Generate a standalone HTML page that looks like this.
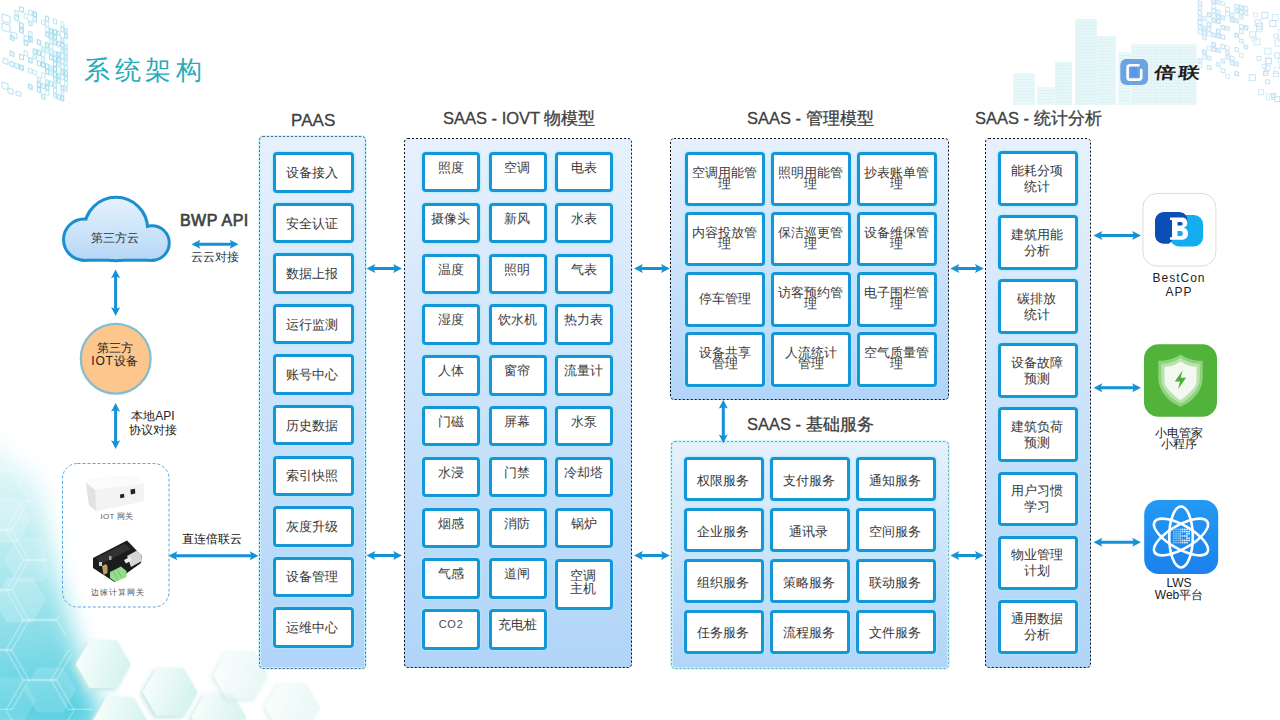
<!DOCTYPE html><html><head><meta charset="utf-8"><title>系统架构</title><style>
*{margin:0;padding:0;box-sizing:border-box}
html,body{width:1280px;height:720px;overflow:hidden;background:#fff}
body{position:relative;font-family:"Liberation Sans",sans-serif;color:#3c3c3c}
.abs{position:absolute}
svg.full{position:absolute;left:0;top:0}
.b{position:absolute;border:3px solid #1596d7;box-shadow:0 0 1.5px 0.8px rgba(170,236,252,0.8);border-radius:4px;background:#fff;
   font-size:13px;color:#383838;display:flex;align-items:center;justify-content:center;text-align:center;line-height:16px;padding-top:3px;padding-right:2px}
.bs{padding-top:0.5px}
.bp{padding-top:1.2px;padding-right:3.2px}
.bt{position:absolute;border:3px solid #1596d7;box-shadow:0 0 1.5px 0.8px rgba(170,236,252,0.8);border-radius:4px;background:#fff;
   font-size:13px;color:#3c3c3c;text-align:center;line-height:15px;padding-top:5px;padding-right:1px}
.bm{position:absolute;border:3px solid #1596d7;box-shadow:0 0 1.5px 0.8px rgba(170,236,252,0.8);border-radius:4px;background:#fff;
   font-size:13px;color:#3c3c3c;display:flex;align-items:center;justify-content:center;text-align:center;line-height:11px;padding-bottom:2px}
.cp,.cd,.cc{position:absolute;border-radius:4px;background:linear-gradient(#e7f1fd,#b0d4f8)}
.hd{position:absolute;font-size:16.5px;color:#404040;white-space:nowrap;line-height:20px;-webkit-text-stroke:0.3px #404040}
.hd b{font-size:17px;font-weight:500}
.lb{position:absolute;font-size:12px;color:#333;white-space:nowrap;text-align:center;line-height:13px}
</style></head><body>
<svg class="full" width="1280" height="720"><defs>
<radialGradient id="blg" cx="0" cy="1" r="1" gradientUnits="objectBoundingBox">
<stop offset="0" stop-color="#5fd3e3" stop-opacity="0.85"/>
<stop offset="0.55" stop-color="#a8e8ef" stop-opacity="0.6"/>
<stop offset="1" stop-color="#ffffff" stop-opacity="0"/>
</radialGradient>
<linearGradient id="cloudg" x1="0" y1="196" x2="0" y2="262" gradientUnits="userSpaceOnUse">
<stop offset="0" stop-color="#e8f3fd"/><stop offset="1" stop-color="#b4d6f6"/></linearGradient>
</defs><defs><linearGradient id="blc" x1="0" y1="440" x2="50" y2="720" gradientUnits="userSpaceOnUse"><stop offset="0" stop-color="#eefafb"/><stop offset="0.3" stop-color="#c4eff3"/><stop offset="0.7" stop-color="#88dde8"/><stop offset="1" stop-color="#52cee0"/></linearGradient><linearGradient id="tileg" x1="0" y1="0" x2="1" y2="0.3"><stop offset="0" stop-color="#fbfffe"/><stop offset="1" stop-color="#d6f3ee"/></linearGradient><filter id="bigblur" x="-50%" y="-50%" width="200%" height="200%"><feGaussianBlur stdDeviation="12"/></filter><clipPath id="cyclip"><polygon points="0,440 36,500 50,580 70,650 96,720 0,720"/></clipPath><filter id="hb" x="-30%" y="-30%" width="160%" height="160%"><feGaussianBlur stdDeviation="2.2"/></filter><filter id="hb2" x="-30%" y="-30%" width="160%" height="160%"><feGaussianBlur stdDeviation="0.7"/></filter></defs><polygon points="-30,420 38,485 55,570 76,645 106,735 -30,735" fill="url(#blc)" filter="url(#bigblur)"/><g clip-path="url(#cyclip)"><polygon points="29.0,500.0 12.0,529.4 -22.0,529.4 -39.0,500.0 -22.0,470.6 12.0,470.6" fill="none" stroke="#ffffff" stroke-opacity="0.36" stroke-width="1.1"/><polygon points="29.0,560.0 12.0,589.4 -22.0,589.4 -39.0,560.0 -22.0,530.6 12.0,530.6" fill="none" stroke="#ffffff" stroke-opacity="0.36" stroke-width="1.1"/><polygon points="74.0,530.0 57.0,559.4 23.0,559.4 6.0,530.0 23.0,500.6 57.0,500.6" fill="none" stroke="#ffffff" stroke-opacity="0.36" stroke-width="1.1"/><polygon points="29.0,620.0 12.0,649.4 -22.0,649.4 -39.0,620.0 -22.0,590.6 12.0,590.6" fill="none" stroke="#ffffff" stroke-opacity="0.36" stroke-width="1.1"/><polygon points="74.0,590.0 57.0,619.4 23.0,619.4 6.0,590.0 23.0,560.6 57.0,560.6" fill="none" stroke="#ffffff" stroke-opacity="0.36" stroke-width="1.1"/><polygon points="74.0,650.0 57.0,679.4 23.0,679.4 6.0,650.0 23.0,620.6 57.0,620.6" fill="none" stroke="#ffffff" stroke-opacity="0.36" stroke-width="1.1"/><polygon points="29.0,680.0 12.0,709.4 -22.0,709.4 -39.0,680.0 -22.0,650.6 12.0,650.6" fill="none" stroke="#ffffff" stroke-opacity="0.36" stroke-width="1.1"/><polygon points="119.0,680.0 102.0,709.4 68.0,709.4 51.0,680.0 68.0,650.6 102.0,650.6" fill="none" stroke="#ffffff" stroke-opacity="0.36" stroke-width="1.1"/><polygon points="74.0,710.0 57.0,739.4 23.0,739.4 6.0,710.0 23.0,680.6 57.0,680.6" fill="none" stroke="#ffffff" stroke-opacity="0.36" stroke-width="1.1"/><polygon points="46.0,600.0 33.0,622.5 7.0,622.5 -6.0,600.0 7.0,577.5 33.0,577.5" fill="#ffffff" fill-opacity="0.2"/><polygon points="76.0,690.0 63.0,712.5 37.0,712.5 24.0,690.0 37.0,667.5 63.0,667.5" fill="#ffffff" fill-opacity="0.15"/><polygon points="36.0,700.0 23.0,722.5 -3.0,722.5 -16.0,700.0 -3.0,677.5 23.0,677.5" fill="#ffffff" fill-opacity="0.12"/><polygon points="56.0,560.0 43.0,582.5 17.0,582.5 4.0,560.0 17.0,537.5 43.0,537.5" fill="#ffffff" fill-opacity="0.15"/><polygon points="31.0,520.0 18.0,542.5 -8.0,542.5 -21.0,520.0 -8.0,497.5 18.0,497.5" fill="#ffffff" fill-opacity="0.2"/></g><g opacity="1"><polygon points="129.2,666.3 115.2,690.5 87.2,690.5 73.2,666.3 87.2,642.1 115.2,642.1" fill="#c6e9e3" filter="url(#hb)"/><polygon points="130.7,664.3 117.0,688.1 89.5,688.1 75.7,664.3 89.4,640.5 117.0,640.5" fill="url(#tileg)" filter="url(#hb2)"/></g><g opacity="1"><polygon points="196.0,694.0 182.0,718.2 154.0,718.2 140.0,694.0 154.0,669.8 182.0,669.8" fill="#c6e9e3" filter="url(#hb)"/><polygon points="197.5,692.0 183.8,715.8 156.2,715.8 142.5,692.0 156.2,668.2 183.8,668.2" fill="url(#tileg)" filter="url(#hb2)"/></g><g opacity="1"><polygon points="146.0,723.0 132.0,747.2 104.0,747.2 90.0,723.0 104.0,698.8 132.0,698.8" fill="#c6e9e3" filter="url(#hb)"/><polygon points="147.5,721.0 133.8,744.8 106.2,744.8 92.5,721.0 106.2,697.2 133.8,697.2" fill="url(#tileg)" filter="url(#hb2)"/></g><g opacity="0.9"><polygon points="244.6,719.0 230.6,743.2 202.6,743.2 188.6,719.0 202.6,694.8 230.6,694.8" fill="#c6e9e3" filter="url(#hb)"/><polygon points="246.1,717.0 232.3,740.8 204.8,740.8 191.1,717.0 204.8,693.2 232.3,693.2" fill="url(#tileg)" filter="url(#hb2)"/></g><g opacity="0.55"><polygon points="266.5,677.0 252.5,701.2 224.5,701.2 210.5,677.0 224.5,652.8 252.5,652.8" fill="#c6e9e3" filter="url(#hb)"/><polygon points="268.0,675.0 254.2,698.8 226.8,698.8 213.0,675.0 226.8,651.2 254.2,651.2" fill="url(#tileg)" filter="url(#hb2)"/></g><g opacity="0.5"><polygon points="318.5,709.0 304.5,733.2 276.5,733.2 262.5,709.0 276.5,684.8 304.5,684.8" fill="#c6e9e3" filter="url(#hb)"/><polygon points="320.0,707.0 306.2,730.8 278.8,730.8 265.0,707.0 278.8,683.2 306.2,683.2" fill="url(#tileg)" filter="url(#hb2)"/></g><g opacity="0.9"><polygon points="10.0,34.8 14.0,36.2 14.0,40.8 10.0,39.4" fill="#dff5fb" stroke="#9ddcee" stroke-width="0.8"/><polygon points="10.0,50.7 14.0,52.1 14.0,56.7 10.0,55.3" fill="#dff5fb" stroke="#9ddcee" stroke-width="0.8"/><polygon points="10.0,61.3 14.0,62.7 14.0,67.3 10.0,65.9" fill="none" stroke="#86d3e8" stroke-width="0.8"/><polygon points="14.8,10.0 18.7,11.4 18.7,16.0 14.8,14.6" fill="#e9f8fc" stroke="#b0e2f2" stroke-width="0.8"/><polygon points="14.8,15.3 18.7,16.7 18.7,21.3 14.8,19.9" fill="none" stroke="#86d3e8" stroke-width="0.8"/><polygon points="14.8,63.0 18.7,64.4 18.7,69.0 14.8,67.6" fill="#e9f8fc" stroke="#9ddcee" stroke-width="0.8"/><polygon points="19.5,6.4 23.3,7.8 23.3,12.4 19.5,11.0" fill="none" stroke="#7acfe6" stroke-width="0.8"/><polygon points="19.5,22.3 23.3,23.7 23.3,28.3 19.5,26.9" fill="#e9f8fc" stroke="#7acfe6" stroke-width="0.8"/><polygon points="19.5,27.6 23.3,29.0 23.3,33.6 19.5,32.2" fill="#dff5fb" stroke="#7acfe6" stroke-width="0.8"/><polygon points="19.5,54.1 23.3,55.5 23.3,60.1 19.5,58.7" fill="none" stroke="#7acfe6" stroke-width="0.8"/><polygon points="19.5,64.7 23.3,66.1 23.3,70.7 19.5,69.3" fill="#dff5fb" stroke="#7acfe6" stroke-width="0.8"/><polygon points="24.1,13.4 27.8,14.7 27.8,19.3 24.1,18.0" fill="none" stroke="#b0e2f2" stroke-width="0.8"/><polygon points="24.1,39.9 27.8,41.2 27.8,45.8 24.1,44.5" fill="#e9f8fc" stroke="#7acfe6" stroke-width="0.8"/><polygon points="24.1,50.5 27.8,51.8 27.8,56.4 24.1,55.1" fill="none" stroke="#9ddcee" stroke-width="0.8"/><polygon points="28.6,9.7 32.2,11.0 32.2,15.6 28.6,14.3" fill="none" stroke="#9ddcee" stroke-width="0.8"/><polygon points="28.6,20.3 32.2,21.6 32.2,26.2 28.6,24.9" fill="#dff5fb" stroke="#9ddcee" stroke-width="0.8"/><polygon points="28.6,30.9 32.2,32.2 32.2,36.8 28.6,35.5" fill="#e9f8fc" stroke="#b0e2f2" stroke-width="0.8"/><polygon points="28.6,36.2 32.2,37.5 32.2,42.1 28.6,40.8" fill="#e9f8fc" stroke="#7acfe6" stroke-width="0.8"/><polygon points="28.6,57.4 32.2,58.7 32.2,63.3 28.6,62.0" fill="#e9f8fc" stroke="#86d3e8" stroke-width="0.8"/><polygon points="28.6,68.0 32.2,69.3 32.2,73.9 28.6,72.6" fill="none" stroke="#9ddcee" stroke-width="0.8"/><polygon points="28.6,83.9 32.2,85.2 32.2,89.8 28.6,88.5" fill="#dff5fb" stroke="#86d3e8" stroke-width="0.8"/><polygon points="33.0,11.3 36.5,12.5 36.5,17.1 33.0,15.9" fill="#dff5fb" stroke="#7acfe6" stroke-width="0.8"/><polygon points="33.0,16.6 36.5,17.8 36.5,22.4 33.0,21.2" fill="#e9f8fc" stroke="#9ddcee" stroke-width="0.8"/><polygon points="33.0,48.4 36.5,49.6 36.5,54.2 33.0,53.0" fill="#dff5fb" stroke="#9ddcee" stroke-width="0.8"/><polygon points="33.0,53.7 36.5,54.9 36.5,59.5 33.0,58.3" fill="#e9f8fc" stroke="#9ddcee" stroke-width="0.8"/><polygon points="33.0,69.6 36.5,70.8 36.5,75.4 33.0,74.2" fill="none" stroke="#b0e2f2" stroke-width="0.8"/><polygon points="37.3,39.3 40.7,40.6 40.7,45.2 37.3,43.9" fill="#e9f8fc" stroke="#7acfe6" stroke-width="0.8"/><polygon points="37.3,49.9 40.7,51.2 40.7,55.8 37.3,54.5" fill="#e9f8fc" stroke="#7acfe6" stroke-width="0.8"/><polygon points="37.3,60.5 40.7,61.8 40.7,66.4 37.3,65.1" fill="none" stroke="#86d3e8" stroke-width="0.8"/><polygon points="37.3,76.4 40.7,77.7 40.7,82.3 37.3,81.0" fill="#dff5fb" stroke="#b0e2f2" stroke-width="0.8"/><polygon points="37.3,81.7 40.7,83.0 40.7,87.6 37.3,86.3" fill="#e9f8fc" stroke="#7acfe6" stroke-width="0.8"/><polygon points="37.3,87.0 40.7,88.3 40.7,92.9 37.3,91.6" fill="#e9f8fc" stroke="#7acfe6" stroke-width="0.8"/><polygon points="41.5,19.6 44.8,20.8 44.8,25.4 41.5,24.2" fill="none" stroke="#b0e2f2" stroke-width="0.8"/><polygon points="41.5,46.1 44.8,47.3 44.8,51.9 41.5,50.7" fill="#dff5fb" stroke="#b0e2f2" stroke-width="0.8"/><polygon points="41.5,51.4 44.8,52.6 44.8,57.2 41.5,56.0" fill="none" stroke="#b0e2f2" stroke-width="0.8"/><polygon points="41.5,56.7 44.8,57.9 44.8,62.5 41.5,61.3" fill="#e9f8fc" stroke="#b0e2f2" stroke-width="0.8"/><polygon points="41.5,62.0 44.8,63.2 44.8,67.8 41.5,66.6" fill="#e9f8fc" stroke="#7acfe6" stroke-width="0.8"/><polygon points="41.5,72.6 44.8,73.8 44.8,78.4 41.5,77.2" fill="none" stroke="#b0e2f2" stroke-width="0.8"/><polygon points="41.5,83.2 44.8,84.4 44.8,89.0 41.5,87.8" fill="#e9f8fc" stroke="#9ddcee" stroke-width="0.8"/><polygon points="41.5,93.8 44.8,95.0 44.8,99.6 41.5,98.4" fill="#dff5fb" stroke="#9ddcee" stroke-width="0.8"/><polygon points="45.6,15.8 48.8,17.0 48.8,21.6 45.6,20.4" fill="none" stroke="#86d3e8" stroke-width="0.8"/><polygon points="45.6,21.1 48.8,22.3 48.8,26.9 45.6,25.7" fill="none" stroke="#b0e2f2" stroke-width="0.8"/><polygon points="45.6,26.4 48.8,27.6 48.8,32.2 45.6,31.0" fill="none" stroke="#b0e2f2" stroke-width="0.8"/><polygon points="45.6,31.7 48.8,32.9 48.8,37.5 45.6,36.3" fill="#dff5fb" stroke="#86d3e8" stroke-width="0.8"/><polygon points="45.6,42.3 48.8,43.5 48.8,48.1 45.6,46.9" fill="#dff5fb" stroke="#86d3e8" stroke-width="0.8"/><polygon points="45.6,47.6 48.8,48.8 48.8,53.4 45.6,52.2" fill="#dff5fb" stroke="#b0e2f2" stroke-width="0.8"/><polygon points="45.6,63.5 48.8,64.7 48.8,69.3 45.6,68.1" fill="none" stroke="#7acfe6" stroke-width="0.8"/><polygon points="45.6,68.8 48.8,70.0 48.8,74.6 45.6,73.4" fill="#e9f8fc" stroke="#7acfe6" stroke-width="0.8"/><polygon points="45.6,79.4 48.8,80.6 48.8,85.2 45.6,84.0" fill="#dff5fb" stroke="#9ddcee" stroke-width="0.8"/><polygon points="45.6,84.7 48.8,85.9 48.8,90.5 45.6,89.3" fill="#e9f8fc" stroke="#7acfe6" stroke-width="0.8"/><polygon points="45.6,90.0 48.8,91.2 48.8,95.8 45.6,94.6" fill="none" stroke="#b0e2f2" stroke-width="0.8"/><polygon points="49.6,27.9 52.7,29.0 52.7,33.6 49.6,32.5" fill="#dff5fb" stroke="#86d3e8" stroke-width="0.8"/><polygon points="49.6,33.2 52.7,34.3 52.7,38.9 49.6,37.8" fill="#dff5fb" stroke="#9ddcee" stroke-width="0.8"/><polygon points="49.6,38.5 52.7,39.6 52.7,44.2 49.6,43.1" fill="#e9f8fc" stroke="#b0e2f2" stroke-width="0.8"/><polygon points="49.6,43.8 52.7,44.9 52.7,49.5 49.6,48.4" fill="none" stroke="#b0e2f2" stroke-width="0.8"/><polygon points="49.6,49.1 52.7,50.2 52.7,54.8 49.6,53.7" fill="#e9f8fc" stroke="#b0e2f2" stroke-width="0.8"/><polygon points="49.6,54.4 52.7,55.5 52.7,60.1 49.6,59.0" fill="none" stroke="#7acfe6" stroke-width="0.8"/><polygon points="49.6,65.0 52.7,66.1 52.7,70.7 49.6,69.6" fill="#dff5fb" stroke="#b0e2f2" stroke-width="0.8"/><polygon points="49.6,70.3 52.7,71.4 52.7,76.0 49.6,74.9" fill="#dff5fb" stroke="#b0e2f2" stroke-width="0.8"/><polygon points="49.6,80.9 52.7,82.0 52.7,86.6 49.6,85.5" fill="none" stroke="#86d3e8" stroke-width="0.8"/><polygon points="53.5,18.7 56.5,19.7 56.5,24.3 53.5,23.3" fill="none" stroke="#9ddcee" stroke-width="0.8"/><polygon points="53.5,29.3 56.5,30.3 56.5,34.9 53.5,33.9" fill="#e9f8fc" stroke="#7acfe6" stroke-width="0.8"/><polygon points="53.5,34.6 56.5,35.6 56.5,40.2 53.5,39.2" fill="#dff5fb" stroke="#86d3e8" stroke-width="0.8"/><polygon points="53.5,39.9 56.5,40.9 56.5,45.5 53.5,44.5" fill="#dff5fb" stroke="#9ddcee" stroke-width="0.8"/><polygon points="53.5,50.5 56.5,51.5 56.5,56.1 53.5,55.1" fill="#dff5fb" stroke="#b0e2f2" stroke-width="0.8"/><polygon points="53.5,55.8 56.5,56.8 56.5,61.4 53.5,60.4" fill="#e9f8fc" stroke="#86d3e8" stroke-width="0.8"/><polygon points="53.5,61.1 56.5,62.1 56.5,66.7 53.5,65.7" fill="none" stroke="#7acfe6" stroke-width="0.8"/><polygon points="53.5,66.4 56.5,67.4 56.5,72.0 53.5,71.0" fill="#e9f8fc" stroke="#7acfe6" stroke-width="0.8"/><polygon points="53.5,71.7 56.5,72.7 56.5,77.3 53.5,76.3" fill="#e9f8fc" stroke="#86d3e8" stroke-width="0.8"/><polygon points="53.5,77.0 56.5,78.0 56.5,82.6 53.5,81.6" fill="#dff5fb" stroke="#9ddcee" stroke-width="0.8"/><polygon points="53.5,82.3 56.5,83.3 56.5,87.9 53.5,86.9" fill="#dff5fb" stroke="#b0e2f2" stroke-width="0.8"/><polygon points="53.5,87.6 56.5,88.6 56.5,93.2 53.5,92.2" fill="none" stroke="#9ddcee" stroke-width="0.8"/><polygon points="53.5,92.9 56.5,93.9 56.5,98.5 53.5,97.5" fill="#dff5fb" stroke="#b0e2f2" stroke-width="0.8"/><polygon points="57.3,30.6 60.2,31.7 60.2,36.3 57.3,35.2" fill="#e9f8fc" stroke="#9ddcee" stroke-width="0.8"/><polygon points="57.3,41.2 60.2,42.3 60.2,46.9 57.3,45.8" fill="none" stroke="#7acfe6" stroke-width="0.8"/><polygon points="57.3,51.8 60.2,52.9 60.2,57.5 57.3,56.4" fill="#dff5fb" stroke="#7acfe6" stroke-width="0.8"/><polygon points="57.3,57.1 60.2,58.2 60.2,62.8 57.3,61.7" fill="#dff5fb" stroke="#7acfe6" stroke-width="0.8"/><polygon points="57.3,62.4 60.2,63.5 60.2,68.1 57.3,67.0" fill="#dff5fb" stroke="#b0e2f2" stroke-width="0.8"/><polygon points="57.3,73.0 60.2,74.1 60.2,78.7 57.3,77.6" fill="#dff5fb" stroke="#86d3e8" stroke-width="0.8"/><polygon points="57.3,78.3 60.2,79.4 60.2,84.0 57.3,82.9" fill="none" stroke="#7acfe6" stroke-width="0.8"/><polygon points="57.3,94.2 60.2,95.3 60.2,99.9 57.3,98.8" fill="none" stroke="#7acfe6" stroke-width="0.8"/><polygon points="61.0,21.4 63.8,22.4 63.8,27.0 61.0,26.0" fill="none" stroke="#b0e2f2" stroke-width="0.8"/><polygon points="61.0,26.7 63.8,27.7 63.8,32.3 61.0,31.3" fill="none" stroke="#86d3e8" stroke-width="0.8"/><polygon points="61.0,37.3 63.8,38.3 63.8,42.9 61.0,41.9" fill="#e9f8fc" stroke="#86d3e8" stroke-width="0.8"/><polygon points="61.0,42.6 63.8,43.6 63.8,48.2 61.0,47.2" fill="none" stroke="#7acfe6" stroke-width="0.8"/><polygon points="61.0,47.9 63.8,48.9 63.8,53.5 61.0,52.5" fill="#dff5fb" stroke="#9ddcee" stroke-width="0.8"/><polygon points="61.0,53.2 63.8,54.2 63.8,58.8 61.0,57.8" fill="none" stroke="#b0e2f2" stroke-width="0.8"/><polygon points="61.0,58.5 63.8,59.5 63.8,64.1 61.0,63.1" fill="none" stroke="#9ddcee" stroke-width="0.8"/><polygon points="61.0,63.8 63.8,64.8 63.8,69.4 61.0,68.4" fill="none" stroke="#b0e2f2" stroke-width="0.8"/><polygon points="61.0,69.1 63.8,70.1 63.8,74.7 61.0,73.7" fill="#dff5fb" stroke="#86d3e8" stroke-width="0.8"/><polygon points="61.0,74.4 63.8,75.4 63.8,80.0 61.0,79.0" fill="none" stroke="#b0e2f2" stroke-width="0.8"/><polygon points="61.0,85.0 63.8,86.0 63.8,90.6 61.0,89.6" fill="#dff5fb" stroke="#86d3e8" stroke-width="0.8"/><polygon points="61.0,90.3 63.8,91.3 63.8,95.9 61.0,94.9" fill="#e9f8fc" stroke="#b0e2f2" stroke-width="0.8"/><polygon points="61.0,95.6 63.8,96.6 63.8,101.2 61.0,100.2" fill="#e9f8fc" stroke="#7acfe6" stroke-width="0.8"/><polygon points="64.6,28.0 67.3,28.9 67.3,33.5 64.6,32.6" fill="#dff5fb" stroke="#9ddcee" stroke-width="0.8"/><polygon points="64.6,33.3 67.3,34.2 67.3,38.8 64.6,37.9" fill="#e9f8fc" stroke="#7acfe6" stroke-width="0.8"/><polygon points="64.6,43.9 67.3,44.8 67.3,49.4 64.6,48.5" fill="#e9f8fc" stroke="#9ddcee" stroke-width="0.8"/><polygon points="64.6,49.2 67.3,50.1 67.3,54.7 64.6,53.8" fill="#e9f8fc" stroke="#9ddcee" stroke-width="0.8"/><polygon points="64.6,54.5 67.3,55.4 67.3,60.0 64.6,59.1" fill="#dff5fb" stroke="#9ddcee" stroke-width="0.8"/><polygon points="64.6,59.8 67.3,60.7 67.3,65.3 64.6,64.4" fill="#dff5fb" stroke="#b0e2f2" stroke-width="0.8"/><polygon points="64.6,65.1 67.3,66.0 67.3,70.6 64.6,69.7" fill="none" stroke="#9ddcee" stroke-width="0.8"/><polygon points="64.6,70.4 67.3,71.3 67.3,75.9 64.6,75.0" fill="#e9f8fc" stroke="#7acfe6" stroke-width="0.8"/><polygon points="64.6,75.7 67.3,76.6 67.3,81.2 64.6,80.3" fill="#e9f8fc" stroke="#86d3e8" stroke-width="0.8"/><polygon points="64.6,81.0 67.3,81.9 67.3,86.5 64.6,85.6" fill="none" stroke="#b0e2f2" stroke-width="0.8"/><polygon points="64.6,86.3 67.3,87.2 67.3,91.8 64.6,90.9" fill="#dff5fb" stroke="#b0e2f2" stroke-width="0.8"/><polygon points="2,14 10,16.4 10,23.4 2,21" fill="none" stroke="#9ad8ec" stroke-width="0.8"/><polygon points="2,23 10,25.4 10,32.4 2,30" fill="none" stroke="#9ad8ec" stroke-width="0.8"/><polygon points="11.5,32 17.0,33.6 17.0,39.1 11.5,37.5" fill="none" stroke="#9ad8ec" stroke-width="0.8"/><polygon points="24,35.5 30,37.3 30,42.3 24,40.5" fill="none" stroke="#9ad8ec" stroke-width="0.8"/><polygon points="3,58 8,59.5 8,64.5 3,63" fill="none" stroke="#9ad8ec" stroke-width="0.8"/><polygon points="2,82 8,83.8 8,89.8 2,88" fill="none" stroke="#9ad8ec" stroke-width="0.8"/><polygon points="8,88 13,89.5 13,94.5 8,93" fill="none" stroke="#9ad8ec" stroke-width="0.8"/><polygon points="16,91 21,92.5 21,96.5 16,95" fill="none" stroke="#9ad8ec" stroke-width="0.8"/></g><g opacity="0.85"><rect x="1013" y="73" width="22" height="32" fill="#e4f6f7"/><line x1="1014.5" y1="76.5" x2="1033.5" y2="76.5" stroke="#d2f0f2" stroke-width="0.8"/><line x1="1014.5" y1="79.5" x2="1033.5" y2="79.5" stroke="#d2f0f2" stroke-width="0.8"/><line x1="1014.5" y1="82.5" x2="1033.5" y2="82.5" stroke="#d2f0f2" stroke-width="0.8"/><line x1="1014.5" y1="85.5" x2="1033.5" y2="85.5" stroke="#d2f0f2" stroke-width="0.8"/><line x1="1014.5" y1="88.5" x2="1033.5" y2="88.5" stroke="#d2f0f2" stroke-width="0.8"/><line x1="1014.5" y1="91.5" x2="1033.5" y2="91.5" stroke="#d2f0f2" stroke-width="0.8"/><line x1="1014.5" y1="94.5" x2="1033.5" y2="94.5" stroke="#d2f0f2" stroke-width="0.8"/><line x1="1014.5" y1="97.5" x2="1033.5" y2="97.5" stroke="#d2f0f2" stroke-width="0.8"/><line x1="1014.5" y1="100.5" x2="1033.5" y2="100.5" stroke="#d2f0f2" stroke-width="0.8"/><rect x="1037" y="87" width="18" height="18" fill="#e8f7f8"/><line x1="1038.5" y1="90.5" x2="1053.5" y2="90.5" stroke="#d2f0f2" stroke-width="0.8"/><line x1="1038.5" y1="93.5" x2="1053.5" y2="93.5" stroke="#d2f0f2" stroke-width="0.8"/><line x1="1038.5" y1="96.5" x2="1053.5" y2="96.5" stroke="#d2f0f2" stroke-width="0.8"/><line x1="1038.5" y1="99.5" x2="1053.5" y2="99.5" stroke="#d2f0f2" stroke-width="0.8"/><line x1="1038.5" y1="102.5" x2="1053.5" y2="102.5" stroke="#d2f0f2" stroke-width="0.8"/><rect x="1055" y="62" width="17" height="43" fill="#e1f5f6"/><line x1="1056.5" y1="65.5" x2="1070.5" y2="65.5" stroke="#d2f0f2" stroke-width="0.8"/><line x1="1056.5" y1="68.5" x2="1070.5" y2="68.5" stroke="#d2f0f2" stroke-width="0.8"/><line x1="1056.5" y1="71.5" x2="1070.5" y2="71.5" stroke="#d2f0f2" stroke-width="0.8"/><line x1="1056.5" y1="74.5" x2="1070.5" y2="74.5" stroke="#d2f0f2" stroke-width="0.8"/><line x1="1056.5" y1="77.5" x2="1070.5" y2="77.5" stroke="#d2f0f2" stroke-width="0.8"/><line x1="1056.5" y1="80.5" x2="1070.5" y2="80.5" stroke="#d2f0f2" stroke-width="0.8"/><line x1="1056.5" y1="83.5" x2="1070.5" y2="83.5" stroke="#d2f0f2" stroke-width="0.8"/><line x1="1056.5" y1="86.5" x2="1070.5" y2="86.5" stroke="#d2f0f2" stroke-width="0.8"/><line x1="1056.5" y1="89.5" x2="1070.5" y2="89.5" stroke="#d2f0f2" stroke-width="0.8"/><line x1="1056.5" y1="92.5" x2="1070.5" y2="92.5" stroke="#d2f0f2" stroke-width="0.8"/><line x1="1056.5" y1="95.5" x2="1070.5" y2="95.5" stroke="#d2f0f2" stroke-width="0.8"/><line x1="1056.5" y1="98.5" x2="1070.5" y2="98.5" stroke="#d2f0f2" stroke-width="0.8"/><line x1="1056.5" y1="101.5" x2="1070.5" y2="101.5" stroke="#d2f0f2" stroke-width="0.8"/><rect x="1075" y="19" width="22" height="86" fill="#e0f5f6"/><line x1="1076.5" y1="22.5" x2="1095.5" y2="22.5" stroke="#d2f0f2" stroke-width="0.8"/><line x1="1076.5" y1="25.5" x2="1095.5" y2="25.5" stroke="#d2f0f2" stroke-width="0.8"/><line x1="1076.5" y1="28.5" x2="1095.5" y2="28.5" stroke="#d2f0f2" stroke-width="0.8"/><line x1="1076.5" y1="31.5" x2="1095.5" y2="31.5" stroke="#d2f0f2" stroke-width="0.8"/><line x1="1076.5" y1="34.5" x2="1095.5" y2="34.5" stroke="#d2f0f2" stroke-width="0.8"/><line x1="1076.5" y1="37.5" x2="1095.5" y2="37.5" stroke="#d2f0f2" stroke-width="0.8"/><line x1="1076.5" y1="40.5" x2="1095.5" y2="40.5" stroke="#d2f0f2" stroke-width="0.8"/><line x1="1076.5" y1="43.5" x2="1095.5" y2="43.5" stroke="#d2f0f2" stroke-width="0.8"/><line x1="1076.5" y1="46.5" x2="1095.5" y2="46.5" stroke="#d2f0f2" stroke-width="0.8"/><line x1="1076.5" y1="49.5" x2="1095.5" y2="49.5" stroke="#d2f0f2" stroke-width="0.8"/><line x1="1076.5" y1="52.5" x2="1095.5" y2="52.5" stroke="#d2f0f2" stroke-width="0.8"/><line x1="1076.5" y1="55.5" x2="1095.5" y2="55.5" stroke="#d2f0f2" stroke-width="0.8"/><line x1="1076.5" y1="58.5" x2="1095.5" y2="58.5" stroke="#d2f0f2" stroke-width="0.8"/><line x1="1076.5" y1="61.5" x2="1095.5" y2="61.5" stroke="#d2f0f2" stroke-width="0.8"/><line x1="1076.5" y1="64.5" x2="1095.5" y2="64.5" stroke="#d2f0f2" stroke-width="0.8"/><line x1="1076.5" y1="67.5" x2="1095.5" y2="67.5" stroke="#d2f0f2" stroke-width="0.8"/><line x1="1076.5" y1="70.5" x2="1095.5" y2="70.5" stroke="#d2f0f2" stroke-width="0.8"/><line x1="1076.5" y1="73.5" x2="1095.5" y2="73.5" stroke="#d2f0f2" stroke-width="0.8"/><line x1="1076.5" y1="76.5" x2="1095.5" y2="76.5" stroke="#d2f0f2" stroke-width="0.8"/><line x1="1076.5" y1="79.5" x2="1095.5" y2="79.5" stroke="#d2f0f2" stroke-width="0.8"/><line x1="1076.5" y1="82.5" x2="1095.5" y2="82.5" stroke="#d2f0f2" stroke-width="0.8"/><line x1="1076.5" y1="85.5" x2="1095.5" y2="85.5" stroke="#d2f0f2" stroke-width="0.8"/><line x1="1076.5" y1="88.5" x2="1095.5" y2="88.5" stroke="#d2f0f2" stroke-width="0.8"/><line x1="1076.5" y1="91.5" x2="1095.5" y2="91.5" stroke="#d2f0f2" stroke-width="0.8"/><line x1="1076.5" y1="94.5" x2="1095.5" y2="94.5" stroke="#d2f0f2" stroke-width="0.8"/><line x1="1076.5" y1="97.5" x2="1095.5" y2="97.5" stroke="#d2f0f2" stroke-width="0.8"/><line x1="1076.5" y1="100.5" x2="1095.5" y2="100.5" stroke="#d2f0f2" stroke-width="0.8"/><rect x="1097" y="36" width="19" height="69" fill="#e3f6f7"/><line x1="1098.5" y1="39.5" x2="1114.5" y2="39.5" stroke="#d2f0f2" stroke-width="0.8"/><line x1="1098.5" y1="42.5" x2="1114.5" y2="42.5" stroke="#d2f0f2" stroke-width="0.8"/><line x1="1098.5" y1="45.5" x2="1114.5" y2="45.5" stroke="#d2f0f2" stroke-width="0.8"/><line x1="1098.5" y1="48.5" x2="1114.5" y2="48.5" stroke="#d2f0f2" stroke-width="0.8"/><line x1="1098.5" y1="51.5" x2="1114.5" y2="51.5" stroke="#d2f0f2" stroke-width="0.8"/><line x1="1098.5" y1="54.5" x2="1114.5" y2="54.5" stroke="#d2f0f2" stroke-width="0.8"/><line x1="1098.5" y1="57.5" x2="1114.5" y2="57.5" stroke="#d2f0f2" stroke-width="0.8"/><line x1="1098.5" y1="60.5" x2="1114.5" y2="60.5" stroke="#d2f0f2" stroke-width="0.8"/><line x1="1098.5" y1="63.5" x2="1114.5" y2="63.5" stroke="#d2f0f2" stroke-width="0.8"/><line x1="1098.5" y1="66.5" x2="1114.5" y2="66.5" stroke="#d2f0f2" stroke-width="0.8"/><line x1="1098.5" y1="69.5" x2="1114.5" y2="69.5" stroke="#d2f0f2" stroke-width="0.8"/><line x1="1098.5" y1="72.5" x2="1114.5" y2="72.5" stroke="#d2f0f2" stroke-width="0.8"/><line x1="1098.5" y1="75.5" x2="1114.5" y2="75.5" stroke="#d2f0f2" stroke-width="0.8"/><line x1="1098.5" y1="78.5" x2="1114.5" y2="78.5" stroke="#d2f0f2" stroke-width="0.8"/><line x1="1098.5" y1="81.5" x2="1114.5" y2="81.5" stroke="#d2f0f2" stroke-width="0.8"/><line x1="1098.5" y1="84.5" x2="1114.5" y2="84.5" stroke="#d2f0f2" stroke-width="0.8"/><line x1="1098.5" y1="87.5" x2="1114.5" y2="87.5" stroke="#d2f0f2" stroke-width="0.8"/><line x1="1098.5" y1="90.5" x2="1114.5" y2="90.5" stroke="#d2f0f2" stroke-width="0.8"/><line x1="1098.5" y1="93.5" x2="1114.5" y2="93.5" stroke="#d2f0f2" stroke-width="0.8"/><line x1="1098.5" y1="96.5" x2="1114.5" y2="96.5" stroke="#d2f0f2" stroke-width="0.8"/><line x1="1098.5" y1="99.5" x2="1114.5" y2="99.5" stroke="#d2f0f2" stroke-width="0.8"/><line x1="1098.5" y1="102.5" x2="1114.5" y2="102.5" stroke="#d2f0f2" stroke-width="0.8"/><rect x="1118" y="52" width="13" height="53" fill="#e7f7f8"/><line x1="1119.5" y1="55.5" x2="1129.5" y2="55.5" stroke="#d2f0f2" stroke-width="0.8"/><line x1="1119.5" y1="58.5" x2="1129.5" y2="58.5" stroke="#d2f0f2" stroke-width="0.8"/><line x1="1119.5" y1="61.5" x2="1129.5" y2="61.5" stroke="#d2f0f2" stroke-width="0.8"/><line x1="1119.5" y1="64.5" x2="1129.5" y2="64.5" stroke="#d2f0f2" stroke-width="0.8"/><line x1="1119.5" y1="67.5" x2="1129.5" y2="67.5" stroke="#d2f0f2" stroke-width="0.8"/><line x1="1119.5" y1="70.5" x2="1129.5" y2="70.5" stroke="#d2f0f2" stroke-width="0.8"/><line x1="1119.5" y1="73.5" x2="1129.5" y2="73.5" stroke="#d2f0f2" stroke-width="0.8"/><line x1="1119.5" y1="76.5" x2="1129.5" y2="76.5" stroke="#d2f0f2" stroke-width="0.8"/><line x1="1119.5" y1="79.5" x2="1129.5" y2="79.5" stroke="#d2f0f2" stroke-width="0.8"/><line x1="1119.5" y1="82.5" x2="1129.5" y2="82.5" stroke="#d2f0f2" stroke-width="0.8"/><line x1="1119.5" y1="85.5" x2="1129.5" y2="85.5" stroke="#d2f0f2" stroke-width="0.8"/><line x1="1119.5" y1="88.5" x2="1129.5" y2="88.5" stroke="#d2f0f2" stroke-width="0.8"/><line x1="1119.5" y1="91.5" x2="1129.5" y2="91.5" stroke="#d2f0f2" stroke-width="0.8"/><line x1="1119.5" y1="94.5" x2="1129.5" y2="94.5" stroke="#d2f0f2" stroke-width="0.8"/><line x1="1119.5" y1="97.5" x2="1129.5" y2="97.5" stroke="#d2f0f2" stroke-width="0.8"/><line x1="1119.5" y1="100.5" x2="1129.5" y2="100.5" stroke="#d2f0f2" stroke-width="0.8"/><rect x="1131" y="44" width="66" height="61" fill="#e9f6f9"/><line x1="1132.5" y1="47.5" x2="1195.5" y2="47.5" stroke="#d2f0f2" stroke-width="0.8"/><line x1="1132.5" y1="50.5" x2="1195.5" y2="50.5" stroke="#d2f0f2" stroke-width="0.8"/><line x1="1132.5" y1="53.5" x2="1195.5" y2="53.5" stroke="#d2f0f2" stroke-width="0.8"/><line x1="1132.5" y1="56.5" x2="1195.5" y2="56.5" stroke="#d2f0f2" stroke-width="0.8"/><line x1="1132.5" y1="59.5" x2="1195.5" y2="59.5" stroke="#d2f0f2" stroke-width="0.8"/><line x1="1132.5" y1="62.5" x2="1195.5" y2="62.5" stroke="#d2f0f2" stroke-width="0.8"/><line x1="1132.5" y1="65.5" x2="1195.5" y2="65.5" stroke="#d2f0f2" stroke-width="0.8"/><line x1="1132.5" y1="68.5" x2="1195.5" y2="68.5" stroke="#d2f0f2" stroke-width="0.8"/><line x1="1132.5" y1="71.5" x2="1195.5" y2="71.5" stroke="#d2f0f2" stroke-width="0.8"/><line x1="1132.5" y1="74.5" x2="1195.5" y2="74.5" stroke="#d2f0f2" stroke-width="0.8"/><line x1="1132.5" y1="77.5" x2="1195.5" y2="77.5" stroke="#d2f0f2" stroke-width="0.8"/><line x1="1132.5" y1="80.5" x2="1195.5" y2="80.5" stroke="#d2f0f2" stroke-width="0.8"/><line x1="1132.5" y1="83.5" x2="1195.5" y2="83.5" stroke="#d2f0f2" stroke-width="0.8"/><line x1="1132.5" y1="86.5" x2="1195.5" y2="86.5" stroke="#d2f0f2" stroke-width="0.8"/><line x1="1132.5" y1="89.5" x2="1195.5" y2="89.5" stroke="#d2f0f2" stroke-width="0.8"/><line x1="1132.5" y1="92.5" x2="1195.5" y2="92.5" stroke="#d2f0f2" stroke-width="0.8"/><line x1="1132.5" y1="95.5" x2="1195.5" y2="95.5" stroke="#d2f0f2" stroke-width="0.8"/><line x1="1132.5" y1="98.5" x2="1195.5" y2="98.5" stroke="#d2f0f2" stroke-width="0.8"/><line x1="1132.5" y1="101.5" x2="1195.5" y2="101.5" stroke="#d2f0f2" stroke-width="0.8"/><line x1="1133.5" y1="46" x2="1133.5" y2="104" stroke="#d8eef5" stroke-width="0.7"/><line x1="1136.5" y1="46" x2="1136.5" y2="104" stroke="#d8eef5" stroke-width="0.7"/><line x1="1139.5" y1="46" x2="1139.5" y2="104" stroke="#d8eef5" stroke-width="0.7"/><line x1="1142.5" y1="46" x2="1142.5" y2="104" stroke="#d8eef5" stroke-width="0.7"/><line x1="1145.5" y1="46" x2="1145.5" y2="104" stroke="#d8eef5" stroke-width="0.7"/><line x1="1148.5" y1="46" x2="1148.5" y2="104" stroke="#d8eef5" stroke-width="0.7"/><line x1="1151.5" y1="46" x2="1151.5" y2="104" stroke="#d8eef5" stroke-width="0.7"/><line x1="1154.5" y1="46" x2="1154.5" y2="104" stroke="#d8eef5" stroke-width="0.7"/><line x1="1157.5" y1="46" x2="1157.5" y2="104" stroke="#d8eef5" stroke-width="0.7"/><line x1="1160.5" y1="46" x2="1160.5" y2="104" stroke="#d8eef5" stroke-width="0.7"/><line x1="1163.5" y1="46" x2="1163.5" y2="104" stroke="#d8eef5" stroke-width="0.7"/><line x1="1166.5" y1="46" x2="1166.5" y2="104" stroke="#d8eef5" stroke-width="0.7"/><line x1="1169.5" y1="46" x2="1169.5" y2="104" stroke="#d8eef5" stroke-width="0.7"/><line x1="1172.5" y1="46" x2="1172.5" y2="104" stroke="#d8eef5" stroke-width="0.7"/><line x1="1175.5" y1="46" x2="1175.5" y2="104" stroke="#d8eef5" stroke-width="0.7"/><line x1="1178.5" y1="46" x2="1178.5" y2="104" stroke="#d8eef5" stroke-width="0.7"/><line x1="1181.5" y1="46" x2="1181.5" y2="104" stroke="#d8eef5" stroke-width="0.7"/><line x1="1184.5" y1="46" x2="1184.5" y2="104" stroke="#d8eef5" stroke-width="0.7"/><line x1="1187.5" y1="46" x2="1187.5" y2="104" stroke="#d8eef5" stroke-width="0.7"/><line x1="1190.5" y1="46" x2="1190.5" y2="104" stroke="#d8eef5" stroke-width="0.7"/><line x1="1193.5" y1="46" x2="1193.5" y2="104" stroke="#d8eef5" stroke-width="0.7"/><polygon points="1198.0,0.8 1201.8,1.6 1201.8,5.5 1198.0,4.7" fill="#edf7fc" stroke="#a9d5ee" stroke-width="0.75"/><polygon points="1198.0,5.6 1201.8,6.4 1201.8,10.3 1198.0,9.5" fill="#edf7fc" stroke="#b7dcf1" stroke-width="0.75"/><polygon points="1198.0,10.4 1201.8,11.2 1201.8,15.1 1198.0,14.3" fill="none" stroke="#9ccfea" stroke-width="0.75"/><polygon points="1198.0,15.2 1201.8,16.0 1201.8,19.9 1198.0,19.1" fill="#e4f2fb" stroke="#b7dcf1" stroke-width="0.75"/><polygon points="1198.0,20.0 1201.8,20.8 1201.8,24.7 1198.0,23.9" fill="none" stroke="#9ccfea" stroke-width="0.75"/><polygon points="1198.0,24.8 1201.8,25.6 1201.8,29.5 1198.0,28.7" fill="#edf7fc" stroke="#b7dcf1" stroke-width="0.75"/><polygon points="1198.0,29.6 1201.8,30.4 1201.8,34.3 1198.0,33.5" fill="none" stroke="#a9d5ee" stroke-width="0.75"/><polygon points="1198.0,58.4 1201.8,59.2 1201.8,63.1 1198.0,62.3" fill="#edf7fc" stroke="#a9d5ee" stroke-width="0.75"/><polygon points="1198.0,63.2 1201.8,64.0 1201.8,67.9 1198.0,67.1" fill="none" stroke="#b7dcf1" stroke-width="0.75"/><polygon points="1202.6,16.2 1206.4,17.0 1206.4,20.9 1202.6,20.1" fill="#edf7fc" stroke="#b7dcf1" stroke-width="0.75"/><polygon points="1202.6,25.8 1206.4,26.6 1206.4,30.5 1202.6,29.7" fill="#e4f2fb" stroke="#a9d5ee" stroke-width="0.75"/><polygon points="1202.6,30.6 1206.4,31.4 1206.4,35.3 1202.6,34.5" fill="#e4f2fb" stroke="#a9d5ee" stroke-width="0.75"/><polygon points="1202.6,35.4 1206.4,36.2 1206.4,40.1 1202.6,39.3" fill="#edf7fc" stroke="#b7dcf1" stroke-width="0.75"/><polygon points="1202.6,49.8 1206.4,50.6 1206.4,54.5 1202.6,53.7" fill="#e4f2fb" stroke="#9ccfea" stroke-width="0.75"/><polygon points="1202.6,54.6 1206.4,55.4 1206.4,59.3 1202.6,58.5" fill="#edf7fc" stroke="#b7dcf1" stroke-width="0.75"/><polygon points="1207.2,12.4 1211.0,13.3 1211.0,17.2 1207.2,16.3" fill="#e4f2fb" stroke="#9ccfea" stroke-width="0.75"/><polygon points="1207.2,22.0 1211.0,22.9 1211.0,26.8 1207.2,25.9" fill="#edf7fc" stroke="#9ccfea" stroke-width="0.75"/><polygon points="1207.2,26.8 1211.0,27.7 1211.0,31.6 1207.2,30.7" fill="#edf7fc" stroke="#b7dcf1" stroke-width="0.75"/><polygon points="1207.2,31.6 1211.0,32.5 1211.0,36.4 1207.2,35.5" fill="none" stroke="#b7dcf1" stroke-width="0.75"/><polygon points="1207.2,46.0 1211.0,46.9 1211.0,50.8 1207.2,49.9" fill="none" stroke="#b7dcf1" stroke-width="0.75"/><polygon points="1207.2,55.6 1211.0,56.5 1211.0,60.4 1207.2,59.5" fill="#e4f2fb" stroke="#b7dcf1" stroke-width="0.75"/><polygon points="1207.2,65.2 1211.0,66.1 1211.0,70.0 1207.2,69.1" fill="#edf7fc" stroke="#a9d5ee" stroke-width="0.75"/><polygon points="1211.8,-1.0 1215.6,-0.1 1215.6,3.8 1211.8,2.9" fill="#e4f2fb" stroke="#9ccfea" stroke-width="0.75"/><polygon points="1211.8,3.8 1215.6,4.7 1215.6,8.6 1211.8,7.7" fill="none" stroke="#b7dcf1" stroke-width="0.75"/><polygon points="1211.8,8.6 1215.6,9.5 1215.6,13.4 1211.8,12.5" fill="none" stroke="#9ccfea" stroke-width="0.75"/><polygon points="1211.8,13.4 1215.6,14.3 1215.6,18.2 1211.8,17.3" fill="none" stroke="#b7dcf1" stroke-width="0.75"/><polygon points="1211.8,18.2 1215.6,19.1 1215.6,23.0 1211.8,22.1" fill="#e4f2fb" stroke="#a9d5ee" stroke-width="0.75"/><polygon points="1211.8,32.6 1215.6,33.5 1215.6,37.4 1211.8,36.5" fill="#e4f2fb" stroke="#a9d5ee" stroke-width="0.75"/><polygon points="1211.8,42.2 1215.6,43.1 1215.6,47.0 1211.8,46.1" fill="#e4f2fb" stroke="#9ccfea" stroke-width="0.75"/><polygon points="1211.8,47.0 1215.6,47.9 1215.6,51.8 1211.8,50.9" fill="#edf7fc" stroke="#9ccfea" stroke-width="0.75"/><polygon points="1216.4,0.0 1220.2,0.9 1220.2,4.8 1216.4,3.9" fill="#e4f2fb" stroke="#b7dcf1" stroke-width="0.75"/><polygon points="1216.4,9.6 1220.2,10.5 1220.2,14.4 1216.4,13.5" fill="#edf7fc" stroke="#b7dcf1" stroke-width="0.75"/><polygon points="1216.4,14.4 1220.2,15.3 1220.2,19.2 1216.4,18.3" fill="#e4f2fb" stroke="#9ccfea" stroke-width="0.75"/><polygon points="1216.4,19.2 1220.2,20.1 1220.2,24.0 1216.4,23.1" fill="#e4f2fb" stroke="#9ccfea" stroke-width="0.75"/><polygon points="1216.4,28.8 1220.2,29.7 1220.2,33.6 1216.4,32.7" fill="#edf7fc" stroke="#9ccfea" stroke-width="0.75"/><polygon points="1216.4,33.6 1220.2,34.5 1220.2,38.4 1216.4,37.5" fill="#e4f2fb" stroke="#9ccfea" stroke-width="0.75"/><polygon points="1216.4,48.0 1220.2,48.9 1220.2,52.8 1216.4,51.9" fill="#e4f2fb" stroke="#a9d5ee" stroke-width="0.75"/><polygon points="1216.4,62.4 1220.2,63.3 1220.2,67.2 1216.4,66.3" fill="#e4f2fb" stroke="#b7dcf1" stroke-width="0.75"/><polygon points="1221.0,1.1 1224.8,1.9 1224.8,5.8 1221.0,5.0" fill="none" stroke="#b7dcf1" stroke-width="0.75"/><polygon points="1221.0,15.5 1224.8,16.3 1224.8,20.2 1221.0,19.4" fill="#e4f2fb" stroke="#a9d5ee" stroke-width="0.75"/><polygon points="1221.0,25.1 1224.8,25.9 1224.8,29.8 1221.0,29.0" fill="#edf7fc" stroke="#9ccfea" stroke-width="0.75"/><polygon points="1221.0,34.7 1224.8,35.5 1224.8,39.4 1221.0,38.6" fill="none" stroke="#9ccfea" stroke-width="0.75"/><polygon points="1221.0,44.3 1224.8,45.1 1224.8,49.0 1221.0,48.2" fill="none" stroke="#9ccfea" stroke-width="0.75"/><polygon points="1221.0,58.7 1224.8,59.5 1224.8,63.4 1221.0,62.6" fill="#e4f2fb" stroke="#b7dcf1" stroke-width="0.75"/><polygon points="1221.0,68.3 1224.8,69.1 1224.8,73.0 1221.0,72.2" fill="none" stroke="#a9d5ee" stroke-width="0.75"/><polygon points="1225.6,6.9 1229.4,7.7 1229.4,11.6 1225.6,10.8" fill="none" stroke="#a9d5ee" stroke-width="0.75"/><polygon points="1225.6,11.7 1229.4,12.5 1229.4,16.4 1225.6,15.6" fill="none" stroke="#b7dcf1" stroke-width="0.75"/><polygon points="1225.6,26.1 1229.4,26.9 1229.4,30.8 1225.6,30.0" fill="#e4f2fb" stroke="#b7dcf1" stroke-width="0.75"/><polygon points="1225.6,45.3 1229.4,46.1 1229.4,50.0 1225.6,49.2" fill="none" stroke="#b7dcf1" stroke-width="0.75"/><polygon points="1225.6,50.1 1229.4,50.9 1229.4,54.8 1225.6,54.0" fill="#e4f2fb" stroke="#b7dcf1" stroke-width="0.75"/><polygon points="1225.6,54.9 1229.4,55.7 1229.4,59.6 1225.6,58.8" fill="#e4f2fb" stroke="#b7dcf1" stroke-width="0.75"/><polygon points="1225.6,74.1 1229.4,74.9 1229.4,78.8 1225.6,78.0" fill="none" stroke="#b7dcf1" stroke-width="0.75"/><polygon points="1230.2,12.7 1234.0,13.5 1234.0,17.4 1230.2,16.6" fill="#edf7fc" stroke="#a9d5ee" stroke-width="0.75"/><polygon points="1230.2,17.5 1234.0,18.3 1234.0,22.2 1230.2,21.4" fill="#e4f2fb" stroke="#9ccfea" stroke-width="0.75"/><polygon points="1230.2,55.9 1234.0,56.7 1234.0,60.6 1230.2,59.8" fill="none" stroke="#a9d5ee" stroke-width="0.75"/><polygon points="1230.2,60.7 1234.0,61.5 1234.0,65.4 1230.2,64.6" fill="#edf7fc" stroke="#9ccfea" stroke-width="0.75"/><polygon points="1234.8,4.1 1238.6,4.9 1238.6,8.8 1234.8,8.0" fill="#edf7fc" stroke="#a9d5ee" stroke-width="0.75"/><polygon points="1234.8,8.9 1238.6,9.7 1238.6,13.6 1234.8,12.8" fill="#e4f2fb" stroke="#a9d5ee" stroke-width="0.75"/><polygon points="1234.8,18.5 1238.6,19.3 1238.6,23.2 1234.8,22.4" fill="#e4f2fb" stroke="#a9d5ee" stroke-width="0.75"/><polygon points="1234.8,32.9 1238.6,33.7 1238.6,37.6 1234.8,36.8" fill="#e4f2fb" stroke="#9ccfea" stroke-width="0.75"/><polygon points="1234.8,47.3 1238.6,48.1 1238.6,52.0 1234.8,51.2" fill="none" stroke="#a9d5ee" stroke-width="0.75"/><polygon points="1234.8,61.7 1238.6,62.5 1238.6,66.4 1234.8,65.6" fill="#e4f2fb" stroke="#a9d5ee" stroke-width="0.75"/><polygon points="1234.8,71.3 1238.6,72.1 1238.6,76.0 1234.8,75.2" fill="#edf7fc" stroke="#9ccfea" stroke-width="0.75"/><polygon points="1239.4,5.1 1243.2,5.9 1243.2,9.8 1239.4,9.0" fill="#e4f2fb" stroke="#a9d5ee" stroke-width="0.75"/><polygon points="1239.4,9.9 1243.2,10.7 1243.2,14.6 1239.4,13.8" fill="#edf7fc" stroke="#9ccfea" stroke-width="0.75"/><polygon points="1239.4,14.7 1243.2,15.5 1243.2,19.4 1239.4,18.6" fill="#e4f2fb" stroke="#b7dcf1" stroke-width="0.75"/><polygon points="1239.4,24.3 1243.2,25.1 1243.2,29.0 1239.4,28.2" fill="none" stroke="#a9d5ee" stroke-width="0.75"/><polygon points="1239.4,29.1 1243.2,29.9 1243.2,33.8 1239.4,33.0" fill="none" stroke="#a9d5ee" stroke-width="0.75"/><polygon points="1239.4,38.7 1243.2,39.5 1243.2,43.4 1239.4,42.6" fill="#edf7fc" stroke="#a9d5ee" stroke-width="0.75"/><polygon points="1239.4,53.1 1243.2,53.9 1243.2,57.8 1239.4,57.0" fill="none" stroke="#b7dcf1" stroke-width="0.75"/><polygon points="1244.0,6.1 1247.8,7.0 1247.8,10.9 1244.0,10.0" fill="none" stroke="#9ccfea" stroke-width="0.75"/><polygon points="1244.0,10.9 1247.8,11.8 1247.8,15.7 1244.0,14.8" fill="#edf7fc" stroke="#b7dcf1" stroke-width="0.75"/><polygon points="1244.0,25.3 1247.8,26.2 1247.8,30.1 1244.0,29.2" fill="#e4f2fb" stroke="#9ccfea" stroke-width="0.75"/><polygon points="1244.0,44.5 1247.8,45.4 1247.8,49.3 1244.0,48.4" fill="#e4f2fb" stroke="#a9d5ee" stroke-width="0.75"/><rect x="1264.2" y="69.5" width="4" height="4" fill="none" stroke="#c6e6f5" stroke-width="0.8"/><rect x="1253.6" y="13.0" width="4" height="4" fill="none" stroke="#c6e6f5" stroke-width="0.8"/><rect x="1258.7" y="89.8" width="5" height="5" fill="none" stroke="#b9dff2" stroke-width="0.8"/><rect x="1261.8" y="12.3" width="6" height="6" fill="none" stroke="#a9d6ee" stroke-width="0.8"/><rect x="1274.9" y="53.0" width="5" height="5" fill="none" stroke="#a9d6ee" stroke-width="0.8"/><rect x="1249.7" y="31.8" width="6" height="6" fill="none" stroke="#b9dff2" stroke-width="0.8"/><rect x="1273.6" y="71.7" width="5" height="5" fill="none" stroke="#b9dff2" stroke-width="0.8"/><rect x="1254.0" y="38.9" width="6" height="6" fill="none" stroke="#b9dff2" stroke-width="0.8"/><rect x="1265.2" y="65.9" width="5" height="5" fill="none" stroke="#b9dff2" stroke-width="0.8"/><rect x="1273.9" y="34.1" width="4" height="4" fill="none" stroke="#b9dff2" stroke-width="0.8"/><rect x="1274.7" y="67.4" width="6" height="6" fill="none" stroke="#c6e6f5" stroke-width="0.8"/><rect x="1265.7" y="79.9" width="4" height="4" fill="none" stroke="#a9d6ee" stroke-width="0.8"/><rect x="1263.4" y="71.5" width="4" height="4" fill="none" stroke="#a9d6ee" stroke-width="0.8"/><rect x="1271.5" y="93.5" width="4" height="4" fill="none" stroke="#a9d6ee" stroke-width="0.8"/><rect x="1257.0" y="56.4" width="4" height="4" fill="none" stroke="#b9dff2" stroke-width="0.8"/><rect x="1279.9" y="64.6" width="5" height="5" fill="none" stroke="#a9d6ee" stroke-width="0.8"/><rect x="1269.8" y="94.3" width="5" height="5" fill="none" stroke="#c6e6f5" stroke-width="0.8"/><rect x="1266.4" y="93.9" width="6" height="6" fill="none" stroke="#c6e6f5" stroke-width="0.8"/><rect x="1278.9" y="37.5" width="4" height="4" fill="none" stroke="#c6e6f5" stroke-width="0.8"/><rect x="1274.7" y="96.7" width="5" height="5" fill="none" stroke="#a9d6ee" stroke-width="0.8"/><rect x="1265.3" y="58.0" width="6" height="6" fill="none" stroke="#a9d6ee" stroke-width="0.8"/><rect x="1262.4" y="64.3" width="4" height="4" fill="none" stroke="#b9dff2" stroke-width="0.8"/><rect x="1249.3" y="74.8" width="6" height="6" fill="none" stroke="#a9d6ee" stroke-width="0.8"/><rect x="1278.3" y="58.6" width="4" height="4" fill="none" stroke="#b9dff2" stroke-width="0.8"/><rect x="1255.1" y="19.9" width="6" height="6" fill="none" stroke="#a9d6ee" stroke-width="0.8"/><rect x="1256.7" y="23.2" width="6" height="6" fill="none" stroke="#a9d6ee" stroke-width="0.8"/><rect x="1278.4" y="29.6" width="6" height="6" fill="none" stroke="#c6e6f5" stroke-width="0.8"/><rect x="1266.2" y="58.5" width="5" height="5" fill="none" stroke="#b9dff2" stroke-width="0.8"/><rect x="1256.4" y="26.8" width="5" height="5" fill="none" stroke="#b9dff2" stroke-width="0.8"/><rect x="1251.9" y="36.0" width="5" height="5" fill="none" stroke="#c6e6f5" stroke-width="0.8"/><rect x="1272.3" y="14.4" width="6" height="6" fill="none" stroke="#c6e6f5" stroke-width="0.8"/><rect x="1269.9" y="20.6" width="6" height="6" fill="none" stroke="#a9d6ee" stroke-width="0.8"/><rect x="1264.9" y="48.1" width="6" height="6" fill="none" stroke="#b9dff2" stroke-width="0.8"/><rect x="1275.1" y="40.0" width="6" height="6" fill="none" stroke="#b9dff2" stroke-width="0.8"/></g></svg>
<svg class="full" width="1280" height="720"><path d="M1127,59 H1141.3 C1145.5,59 1148,61.5 1148,65.7 V78.3 C1148,82.5 1145.5,85 1141.3,85 H1127 C1122.8,85 1120.3,82.5 1120.3,78.3 V65.7 C1120.3,61.5 1122.8,59 1127,59 Z" fill="#6ea3e2"/><path d="M1138.5,65.3 H1130 C1128.4,65.3 1127.6,66.1 1127.6,67.7 V77.2 C1127.6,78.8 1128.4,79.6 1130,79.6 H1138.8 C1140.4,79.6 1141.2,78.8 1141.2,77.2 V70" fill="none" stroke="#fff" stroke-width="2.6" stroke-linecap="round"/><rect x="1130.6" y="67.5" width="7.4" height="9.6" rx="0.8" fill="#5b97e8"/></svg>
<div class="abs" style="left:1154.8px;top:63.4px;font-size:16px;font-weight:bold;color:#1e1e1e;white-space:nowrap;transform:scale(1.34,0.98) skewX(-4deg);transform-origin:0 0;letter-spacing:2.4px;line-height:20px">倍联</div>
<div class="abs" style="left:84px;top:53.4px;font-size:25.5px;color:#27abb6;letter-spacing:4.6px;white-space:nowrap">系统架构</div>
<div class="hd" style="left:291px;top:111px;font-size:17px;letter-spacing:0.1px">PAAS</div>
<div class="hd" style="left:443px;top:108px">SAAS - IOVT <b>物模型</b></div>
<div class="hd" style="left:747px;top:108px">SAAS - <b>管理模型</b></div>
<div class="hd" style="left:975px;top:108px">SAAS - <b>统计分析</b></div>
<div class="hd" style="left:747px;top:414px">SAAS - <b>基础服务</b></div>
<div class="cp" style="left:259px;top:136px;width:107px;height:533px"></div>
<div class="cd" style="left:404px;top:138px;width:228px;height:530px"></div>
<div class="cd" style="left:670px;top:138px;width:279px;height:262px"></div>
<div class="cc" style="left:671px;top:441px;width:278px;height:228px"></div>
<div class="cd" style="left:985px;top:138px;width:106px;height:530px"></div>
<svg class="full" width="1280" height="720"><rect x="259.5" y="136.5" width="106" height="532" rx="3.5" fill="none" stroke="#cdf1f9" stroke-width="2.5"/><rect x="671.5" y="441.5" width="277" height="227" rx="3.5" fill="none" stroke="#cdf3f8" stroke-width="2.5"/><rect x="259.5" y="136.5" width="106" height="532" rx="3.5" fill="none" stroke="#4d7291" stroke-width="1" stroke-dasharray="2.2,1.8"/><rect x="404.5" y="138.5" width="227" height="529" rx="3.5" fill="none" stroke="#111" stroke-width="1" stroke-dasharray="2,2"/><rect x="670.5" y="138.5" width="278" height="261" rx="3.5" fill="none" stroke="#111" stroke-width="1" stroke-dasharray="2,2"/><rect x="671.5" y="441.5" width="277" height="227" rx="3.5" fill="none" stroke="#5fb4b4" stroke-width="1" stroke-dasharray="2.2,1.8"/><rect x="985.5" y="138.5" width="105" height="529" rx="3.5" fill="none" stroke="#111" stroke-width="1" stroke-dasharray="2,2"/></svg>
<div class="b bp" style="left:273px;top:152.2px;width:81px;height:40.6px">设备接入</div>
<div class="b bp" style="left:273px;top:202.8px;width:81px;height:40.6px">安全认证</div>
<div class="b bp" style="left:273px;top:253.3px;width:81px;height:40.6px">数据上报</div>
<div class="b bp" style="left:273px;top:303.8px;width:81px;height:40.6px">运行监测</div>
<div class="b bp" style="left:273px;top:354.4px;width:81px;height:40.6px">账号中心</div>
<div class="b bp" style="left:273px;top:404.9px;width:81px;height:40.6px">历史数据</div>
<div class="b bp" style="left:273px;top:455.5px;width:81px;height:40.6px">索引快照</div>
<div class="b bp" style="left:273px;top:506.0px;width:81px;height:40.6px">灰度升级</div>
<div class="b bp" style="left:273px;top:556.6px;width:81px;height:40.6px">设备管理</div>
<div class="b bp" style="left:273px;top:607.1px;width:81px;height:40.6px">运维中心</div>
<div class="bt" style="left:422px;top:152.0px;width:58.3px;height:40.4px">照度</div>
<div class="bt" style="left:488.8px;top:152.0px;width:58.3px;height:40.4px">空调</div>
<div class="bt" style="left:555px;top:152.0px;width:58.3px;height:40.4px">电表</div>
<div class="bt" style="left:422px;top:202.8px;width:58.3px;height:40.4px">摄像头</div>
<div class="bt" style="left:488.8px;top:202.8px;width:58.3px;height:40.4px">新风</div>
<div class="bt" style="left:555px;top:202.8px;width:58.3px;height:40.4px">水表</div>
<div class="bt" style="left:422px;top:253.6px;width:58.3px;height:40.4px">温度</div>
<div class="bt" style="left:488.8px;top:253.6px;width:58.3px;height:40.4px">照明</div>
<div class="bt" style="left:555px;top:253.6px;width:58.3px;height:40.4px">气表</div>
<div class="bt" style="left:422px;top:304.4px;width:58.3px;height:40.4px">湿度</div>
<div class="bt" style="left:488.8px;top:304.4px;width:58.3px;height:40.4px">饮水机</div>
<div class="bt" style="left:555px;top:304.4px;width:58.3px;height:40.4px">热力表</div>
<div class="bt" style="left:422px;top:355.2px;width:58.3px;height:40.4px">人体</div>
<div class="bt" style="left:488.8px;top:355.2px;width:58.3px;height:40.4px">窗帘</div>
<div class="bt" style="left:555px;top:355.2px;width:58.3px;height:40.4px">流量计</div>
<div class="bt" style="left:422px;top:406.0px;width:58.3px;height:40.4px">门磁</div>
<div class="bt" style="left:488.8px;top:406.0px;width:58.3px;height:40.4px">屏幕</div>
<div class="bt" style="left:555px;top:406.0px;width:58.3px;height:40.4px">水泵</div>
<div class="bt" style="left:422px;top:456.8px;width:58.3px;height:40.4px">水浸</div>
<div class="bt" style="left:488.8px;top:456.8px;width:58.3px;height:40.4px">门禁</div>
<div class="bt" style="left:555px;top:456.8px;width:58.3px;height:40.4px">冷却塔</div>
<div class="bt" style="left:422px;top:507.6px;width:58.3px;height:40.4px">烟感</div>
<div class="bt" style="left:488.8px;top:507.6px;width:58.3px;height:40.4px">消防</div>
<div class="bt" style="left:555px;top:507.6px;width:58.3px;height:40.4px">锅炉</div>
<div class="bt" style="left:422px;top:558.4px;width:58.3px;height:40.4px">气感</div>
<div class="bt" style="left:488.8px;top:558.4px;width:58.3px;height:40.4px">道闸</div>
<div class="bt" style="left:422px;top:609.2px;width:58.3px;height:40.4px"><span style="font-size:11px;color:#4a4a4a;letter-spacing:0.8px;position:relative;top:-1px;left:0.5px">CO2</span></div>
<div class="bt" style="left:488.8px;top:609.2px;width:58.3px;height:40.4px">充电桩</div>
<div class="b bs" style="left:555px;top:558.6px;width:58.3px;height:51.5px"><span style="line-height:12.5px;position:relative;top:-1.8px">空调<br>主机</span></div>
<div class="bm" style="left:684.5px;top:151.6px;width:80px;height:54.5px">空调用能管<br>理</div>
<div class="bm" style="left:770.5px;top:151.6px;width:80px;height:54.5px">照明用能管<br>理</div>
<div class="bm" style="left:856.5px;top:151.6px;width:80px;height:54.5px">抄表账单管<br>理</div>
<div class="bm" style="left:684.5px;top:211.8px;width:80px;height:54.5px">内容投放管<br>理</div>
<div class="bm" style="left:770.5px;top:211.8px;width:80px;height:54.5px">保洁巡更管<br>理</div>
<div class="bm" style="left:856.5px;top:211.8px;width:80px;height:54.5px">设备维保管<br>理</div>
<div class="bm" style="left:684.5px;top:272.0px;width:80px;height:54.5px">停车管理</div>
<div class="bm" style="left:770.5px;top:272.0px;width:80px;height:54.5px">访客预约管<br>理</div>
<div class="bm" style="left:856.5px;top:272.0px;width:80px;height:54.5px">电子围栏管<br>理</div>
<div class="bm" style="left:684.5px;top:332.2px;width:80px;height:54.5px">设备共享<br>管理</div>
<div class="bm" style="left:770.5px;top:332.2px;width:80px;height:54.5px">人流统计<br>管理</div>
<div class="bm" style="left:856.5px;top:332.2px;width:80px;height:54.5px">空气质量管<br>理</div>
<div class="b" style="left:683.5px;top:457.4px;width:80px;height:44px">权限服务</div>
<div class="b" style="left:769.5px;top:457.4px;width:80px;height:44px">支付服务</div>
<div class="b" style="left:855.5px;top:457.4px;width:80px;height:44px">通知服务</div>
<div class="b" style="left:683.5px;top:508.2px;width:80px;height:44px">企业服务</div>
<div class="b" style="left:769.5px;top:508.2px;width:80px;height:44px">通讯录</div>
<div class="b" style="left:855.5px;top:508.2px;width:80px;height:44px">空间服务</div>
<div class="b" style="left:683.5px;top:559.0px;width:80px;height:44px">组织服务</div>
<div class="b" style="left:769.5px;top:559.0px;width:80px;height:44px">策略服务</div>
<div class="b" style="left:855.5px;top:559.0px;width:80px;height:44px">联动服务</div>
<div class="b" style="left:683.5px;top:609.8px;width:80px;height:44px">任务服务</div>
<div class="b" style="left:769.5px;top:609.8px;width:80px;height:44px">流程服务</div>
<div class="b" style="left:855.5px;top:609.8px;width:80px;height:44px">文件服务</div>
<div class="b bs" style="left:997.5px;top:151.0px;width:80.5px;height:54.5px">能耗分项<br>统计</div>
<div class="b bs" style="left:997.5px;top:215.1px;width:80.5px;height:54.5px">建筑用能<br>分析</div>
<div class="b bs" style="left:997.5px;top:279.2px;width:80.5px;height:54.5px">碳排放<br>统计</div>
<div class="b bs" style="left:997.5px;top:343.3px;width:80.5px;height:54.5px">设备故障<br>预测</div>
<div class="b bs" style="left:997.5px;top:407.4px;width:80.5px;height:54.5px">建筑负荷<br>预测</div>
<div class="b bs" style="left:997.5px;top:471.5px;width:80.5px;height:54.5px">用户习惯<br>学习</div>
<div class="b bs" style="left:997.5px;top:535.6px;width:80.5px;height:54.5px">物业管理<br>计划</div>
<div class="b bs" style="left:997.5px;top:599.7px;width:80.5px;height:54.5px">通用数据<br>分析</div>
<svg class="full" width="1280" height="720"><defs><linearGradient id="cloudg2" x1="0" y1="196" x2="0" y2="262" gradientUnits="userSpaceOnUse"><stop offset="0" stop-color="#e8f3fd"/><stop offset="1" stop-color="#b4d6f6"/></linearGradient></defs><path d="M366.5,268.4 L375.3,263.9 L374.1,266.9 L394.4,266.9 L393.2,263.9 L402,268.4 L393.2,272.9 L394.4,269.9 L374.1,269.9 L375.3,272.9 Z" fill="#1592d6"/><path d="M366.5,555.5 L375.3,551.0 L374.1,554.0 L394.4,554.0 L393.2,551.0 L402,555.5 L393.2,560.0 L394.4,557.0 L374.1,557.0 L375.3,560.0 Z" fill="#1592d6"/><path d="M634,268.4 L642.8,263.9 L641.6,266.9 L662.1999999999999,266.9 L661.0,263.9 L669.8,268.4 L661.0,272.9 L662.1999999999999,269.9 L641.6,269.9 L642.8,272.9 Z" fill="#1592d6"/><path d="M634,555.5 L642.8,551.0 L641.6,554.0 L662.1999999999999,554.0 L661.0,551.0 L669.8,555.5 L661.0,560.0 L662.1999999999999,557.0 L641.6,557.0 L642.8,560.0 Z" fill="#1592d6"/><path d="M950.4,268.4 L959.1999999999999,263.9 L958.0,266.9 L976.1999999999999,266.9 L975.0,263.9 L983.8,268.4 L975.0,272.9 L976.1999999999999,269.9 L958.0,269.9 L959.1999999999999,272.9 Z" fill="#1592d6"/><path d="M950.4,555.5 L959.1999999999999,551.0 L958.0,554.0 L976.1999999999999,554.0 L975.0,551.0 L983.8,555.5 L975.0,560.0 L976.1999999999999,557.0 L958.0,557.0 L959.1999999999999,560.0 Z" fill="#1592d6"/><path d="M723.3,399.8 L727.8,408.6 L724.8,407.40000000000003 L724.8,435.7 L727.8,434.5 L723.3,443.3 L718.8,434.5 L721.8,435.7 L721.8,407.40000000000003 L718.8,408.6 Z" fill="#1592d6"/><path d="M1093.5,235.6 L1102.3,231.1 L1101.1,234.1 L1133.4,234.1 L1132.2,231.1 L1141,235.6 L1132.2,240.1 L1133.4,237.1 L1101.1,237.1 L1102.3,240.1 Z" fill="#1592d6"/><path d="M1093.5,387.8 L1102.3,383.3 L1101.1,386.3 L1133.4,386.3 L1132.2,383.3 L1141,387.8 L1132.2,392.3 L1133.4,389.3 L1101.1,389.3 L1102.3,392.3 Z" fill="#1592d6"/><path d="M1093.5,542.3 L1102.3,537.8 L1101.1,540.8 L1133.4,540.8 L1132.2,537.8 L1141,542.3 L1132.2,546.8 L1133.4,543.8 L1101.1,543.8 L1102.3,546.8 Z" fill="#1592d6"/><path d="M191.5,244.2 L200.3,239.7 L199.1,242.7 L230.9,242.7 L229.7,239.7 L238.5,244.2 L229.7,248.7 L230.9,245.7 L199.1,245.7 L200.3,248.7 Z" fill="#1592d6"/><path d="M115.6,269.5 L120.1,278.3 L117.1,277.1 L117.1,308.4 L120.1,307.2 L115.6,316 L111.1,307.2 L114.1,308.4 L114.1,277.1 L111.1,278.3 Z" fill="#1592d6"/><path d="M115.6,403 L120.1,411.8 L117.1,410.6 L117.1,441.4 L120.1,440.2 L115.6,449 L111.1,440.2 L114.1,441.4 L114.1,410.6 L111.1,411.8 Z" fill="#1592d6"/><path d="M168.5,555.8 L177.3,551.3 L176.1,554.3 L250.9,554.3 L249.7,551.3 L258.5,555.8 L249.7,560.3 L250.9,557.3 L176.1,557.3 L177.3,560.3 Z" fill="#1592d6"/><circle cx="84.1" cy="239.6" r="19.1" fill="none" stroke="#1a8fd0" stroke-width="6"/><circle cx="116" cy="229" r="30.2" fill="none" stroke="#1a8fd0" stroke-width="6"/><circle cx="152" cy="243" r="15.75" fill="none" stroke="#1a8fd0" stroke-width="6"/><rect x="84.1" y="230" width="67.9" height="28.7" fill="none" stroke="#1a8fd0" stroke-width="6"/><circle cx="84.1" cy="239.6" r="19.1" fill="url(#cloudg2)"/><circle cx="116" cy="229" r="30.2" fill="url(#cloudg2)"/><circle cx="152" cy="243" r="15.75" fill="url(#cloudg2)"/><rect x="84.1" y="230" width="67.9" height="28.7" fill="url(#cloudg2)"/><circle cx="115.7" cy="358.7" r="34.9" fill="#fcc68c" stroke="#82bdd2" stroke-width="2.2"/><rect x="62.5" y="463.5" width="106.5" height="143.5" rx="15" fill="none" stroke="#5aa6da" stroke-width="1" stroke-dasharray="3,2"/></svg>
<svg class="full" width="1280" height="720"><defs><linearGradient id="lwsg" x1="0" y1="0" x2="0" y2="1"><stop offset="0" stop-color="#2399f4"/><stop offset="1" stop-color="#1a82ec"/></linearGradient></defs><rect x="1142.9" y="193.5" width="73" height="72.5" rx="14" fill="#fff" stroke="#dcdcdc" stroke-width="1"/><rect x="1170" y="215" width="33" height="31.5" rx="9" fill="#14aef0"/><path d="M1164,212 H1179 C1184,212 1187.5,215.5 1187.5,220.5 C1187.5,225 1181,229 1176,234 C1172.5,238 1171.5,243.75 1168,243.75 H1164 C1159,243.75 1155,240 1155,235 V221 C1155,216 1159,212 1164,212 Z" fill="#0b4fb5"/><g transform="translate(1170 217.5)"><path d="M0,0 H11.5 C15.5,0 17.3,2 17.3,5.2 C17.3,7.8 15.8,9.5 13.8,10.2 C16.6,10.8 18,13 18,16.2 C18,20 15.5,22.2 11.5,22.2 H0 V19.8 H2 V2.4 H0 Z" fill="#fff"/><path d="M7.5,4.4 H10.5 C12,4.4 12.6,5.2 12.6,6.3 C12.6,7.4 12,8.1 10.5,8.1 H7.5 Z" fill="#0b4fb5"/><path d="M7.5,13.6 H10.6 C12.2,13.6 12.9,14.6 12.9,16 C12.9,17.5 12.2,18.5 10.6,18.5 H7.5 Z" fill="#14aef0"/></g><rect x="1144" y="344.2" width="73" height="72.5" rx="14.5" fill="#52b33a"/><path d="M1180.5,354.4 C1172.7125,359.8 1163.8125,360.8 1158.25,360.8 L1158.25,376.8 C1158.25,392.7 1170.4875,402.7 1180.5,406.7 C1190.5125,402.7 1202.75,392.7 1202.75,376.8 L1202.75,360.8 C1197.1875,360.8 1188.2875,359.8 1180.5,354.4 Z" fill="#8fd27d"/><path d="M1180.5,357.8 C1173.7625,362.8 1166.0625,363.8 1161.25,363.8 L1161.25,379.8 C1161.25,389.3 1171.8375,399.3 1180.5,403.3 C1189.1625,399.3 1199.75,389.3 1199.75,379.8 L1199.75,363.8 C1194.9375,363.8 1187.2375,362.8 1180.5,357.8 Z" fill="#b9e3ad"/><path d="M1180.5,361.2 C1174.9,365.8 1168.5,366.8 1164.5,366.8 L1164.5,382.8 C1164.5,386 1173.3,396 1180.5,400 C1187.7,396 1196.5,386 1196.5,382.8 L1196.5,366.8 C1192.5,366.8 1186.1,365.8 1180.5,361.2 Z" fill="#f3f9f1"/><path d="M1182.5,370.5 L1174.8,381.5 L1180,381.5 L1178.2,389 L1186,377.8 L1180.8,377.8 Z" fill="#4cae36"/><rect x="1144.2" y="500" width="74" height="74" rx="14.5" fill="url(#lwsg)"/><ellipse cx="1181" cy="537" rx="11.8" ry="30.5" fill="none" stroke="#fff" stroke-width="2.6" transform="rotate(0 1181 537)"/><ellipse cx="1181" cy="537" rx="11.8" ry="30.5" fill="none" stroke="#fff" stroke-width="2.6" transform="rotate(60 1181 537)"/><ellipse cx="1181" cy="537" rx="11.8" ry="30.5" fill="none" stroke="#fff" stroke-width="2.6" transform="rotate(-60 1181 537)"/><rect x="1173.0" y="528.6" width="1.6" height="1.6" fill="#7fbdf6"/><rect x="1175.2" y="528.6" width="1.6" height="1.6" fill="#7fbdf6"/><rect x="1177.4" y="528.6" width="1.6" height="1.6" fill="#7fbdf6"/><rect x="1179.6" y="528.6" width="1.6" height="1.6" fill="#a9d3fa"/><rect x="1181.8" y="528.6" width="1.6" height="1.6" fill="#e6f3ff"/><rect x="1184.0" y="528.6" width="1.6" height="1.6" fill="#e6f3ff"/><rect x="1186.2" y="528.6" width="1.6" height="1.6" fill="#e6f3ff"/><rect x="1173.0" y="530.8" width="1.6" height="1.6" fill="#7fbdf6"/><rect x="1175.2" y="530.8" width="1.6" height="1.6" fill="#7fbdf6"/><rect x="1177.4" y="530.8" width="1.6" height="1.6" fill="#7fbdf6"/><rect x="1179.6" y="530.8" width="1.6" height="1.6" fill="#a9d3fa"/><rect x="1181.8" y="530.8" width="1.6" height="1.6" fill="#e6f3ff"/><rect x="1184.0" y="530.8" width="1.6" height="1.6" fill="#e6f3ff"/><rect x="1186.2" y="530.8" width="1.6" height="1.6" fill="#e6f3ff"/><rect x="1188.4" y="530.8" width="1.6" height="1.6" fill="#e6f3ff"/><rect x="1173.0" y="533.0" width="1.6" height="1.6" fill="#7fbdf6"/><rect x="1175.2" y="533.0" width="1.6" height="1.6" fill="#7fbdf6"/><rect x="1177.4" y="533.0" width="1.6" height="1.6" fill="#7fbdf6"/><rect x="1179.6" y="533.0" width="1.6" height="1.6" fill="#a9d3fa"/><rect x="1186.2" y="533.0" width="1.6" height="1.6" fill="#e6f3ff"/><rect x="1188.4" y="533.0" width="1.6" height="1.6" fill="#e6f3ff"/><rect x="1173.0" y="535.2" width="1.6" height="1.6" fill="#7fbdf6"/><rect x="1175.2" y="535.2" width="1.6" height="1.6" fill="#7fbdf6"/><rect x="1177.4" y="535.2" width="1.6" height="1.6" fill="#7fbdf6"/><rect x="1179.6" y="535.2" width="1.6" height="1.6" fill="#a9d3fa"/><rect x="1181.8" y="535.2" width="1.6" height="1.6" fill="#e6f3ff"/><rect x="1184.0" y="535.2" width="1.6" height="1.6" fill="#e6f3ff"/><rect x="1186.2" y="535.2" width="1.6" height="1.6" fill="#e6f3ff"/><rect x="1173.0" y="537.4" width="1.6" height="1.6" fill="#7fbdf6"/><rect x="1175.2" y="537.4" width="1.6" height="1.6" fill="#7fbdf6"/><rect x="1177.4" y="537.4" width="1.6" height="1.6" fill="#7fbdf6"/><rect x="1179.6" y="537.4" width="1.6" height="1.6" fill="#a9d3fa"/><rect x="1186.2" y="537.4" width="1.6" height="1.6" fill="#e6f3ff"/><rect x="1188.4" y="537.4" width="1.6" height="1.6" fill="#e6f3ff"/><rect x="1173.0" y="539.6" width="1.6" height="1.6" fill="#7fbdf6"/><rect x="1175.2" y="539.6" width="1.6" height="1.6" fill="#7fbdf6"/><rect x="1177.4" y="539.6" width="1.6" height="1.6" fill="#7fbdf6"/><rect x="1179.6" y="539.6" width="1.6" height="1.6" fill="#a9d3fa"/><rect x="1181.8" y="539.6" width="1.6" height="1.6" fill="#e6f3ff"/><rect x="1184.0" y="539.6" width="1.6" height="1.6" fill="#e6f3ff"/><rect x="1186.2" y="539.6" width="1.6" height="1.6" fill="#e6f3ff"/><rect x="1188.4" y="539.6" width="1.6" height="1.6" fill="#e6f3ff"/><rect x="1173.0" y="541.8" width="1.6" height="1.6" fill="#7fbdf6"/><rect x="1175.2" y="541.8" width="1.6" height="1.6" fill="#7fbdf6"/><rect x="1177.4" y="541.8" width="1.6" height="1.6" fill="#7fbdf6"/><rect x="1179.6" y="541.8" width="1.6" height="1.6" fill="#a9d3fa"/><rect x="1181.8" y="541.8" width="1.6" height="1.6" fill="#e6f3ff"/><rect x="1184.0" y="541.8" width="1.6" height="1.6" fill="#e6f3ff"/><rect x="1186.2" y="541.8" width="1.6" height="1.6" fill="#e6f3ff"/></svg>
<svg class="full" width="1280" height="720"><defs><filter id="blur1" x="-20%" y="-20%" width="140%" height="140%"><feGaussianBlur stdDeviation="0.6"/></filter></defs><g filter="url(#blur1)"><polygon points="86,483 91,478 138,477 144,484 144,501 96,511 89,505" fill="#ececec"/><polygon points="95,490 144,484 144,501 96,511" fill="#f3f3f3"/><polygon points="86,483 91,478 138,477 144,484 95,490" fill="#fbfbfb"/><polygon points="86,483 95,490 96,511 89,505" fill="#e2e2e2"/><polygon points="120,494.5 124,493.8 124.3,497.5 120.3,498.3" fill="#222"/><polygon points="130.5,489.5 135,488.8 135.3,493.6 130.8,494.4" fill="#222"/></g><g filter="url(#blur1)"><polygon points="93,558 127,540.5 141.5,555.5 141,563 114.5,582 93,568" fill="#1a1a1a"/><polygon points="96,558 125,543.5 131,549 101,564" fill="#333"/><polygon points="127,556 137,550.5 141,555 141,561.5 131,567" fill="#d6d6d6"/><polygon points="124,560 130,557 132,560 126,563.5" fill="#eee"/><polygon points="110,572 121,566.5 126.5,571 126.5,577 115.5,582 110,578" fill="#95dc8f"/><line x1="113" y1="571" x2="118" y2="580" stroke="#6fbf6a" stroke-width="0.8"/><line x1="117" y1="569" x2="122" y2="578" stroke="#6fbf6a" stroke-width="0.8"/><polygon points="102,566 106,564 107.5,566 107.5,573 103.5,575" fill="#b8a060"/><rect x="109" y="556" width="2.5" height="4" fill="#9aa7b0"/><rect x="99" y="562" width="3" height="4" fill="#cfcfcf"/></g></svg>
<div class="lb" style="left:91px;top:232px">第三方云</div>
<div class="hd" style="left:180px;top:210.5px;font-size:16px;letter-spacing:0.45px;-webkit-text-stroke:0.65px #404040">BWP API</div>
<div class="lb" style="left:191px;top:251px">云云对接</div>
<div class="lb" style="left:84.5px;top:342px;width:60px;color:#222">第三方<br><span style="letter-spacing:0.8px">IOT</span>设备</div>
<div class="lb" style="left:128px;top:408.5px;width:50px;color:#222;line-height:14px">本地API<br>协议对接</div>
<div class="lb" style="left:182px;top:532.5px;font-size:12.4px;color:#111">直连倍联云</div>
<div class="lb" style="left:82px;top:510px;width:70px;font-size:8px;color:#606060;letter-spacing:0.3px">IOT 网关</div>
<div class="lb" style="left:82.5px;top:586px;width:70px;font-size:8px;color:#555;letter-spacing:1px">边缘计算网关</div>
<div class="lb" style="left:1139px;top:272px;width:80px;color:#222;letter-spacing:1px;line-height:13.5px">BestCon<br>APP</div>
<div class="lb" style="left:1139px;top:427.5px;width:80px;color:#222;line-height:11.5px">小电管家<br>小程序</div>
<div class="lb" style="left:1139px;top:577px;width:80px;color:#222;line-height:12px">LWS<br>Web平台</div>
</body></html>
